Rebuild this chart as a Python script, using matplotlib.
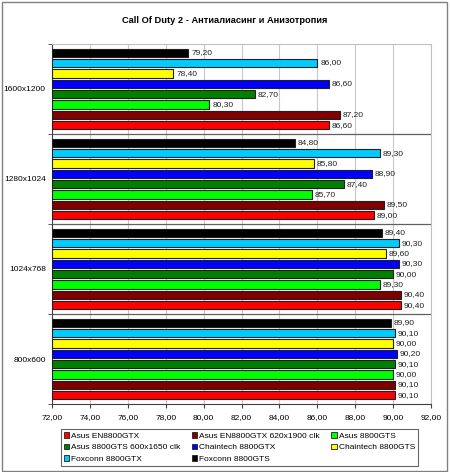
import matplotlib
matplotlib.use("Agg")
import matplotlib.pyplot as plt
from matplotlib.patches import Rectangle, Patch
import numpy as np

plt.rcParams['font.family'] = ['Liberation Sans', 'DejaVu Sans']

title = "Call Of Duty 2 - Антиалиасинг и Анизотропия"
groups = ["800x600", "1024x768", "1280x1024", "1600x1200"]
series = ["Asus EN8800GTX", "Asus EN8800GTX 620x1900 clk", "Asus 8800GTS",
          "Asus 8800GTS 600x1650 clk", "Chaintech 8800GTX", "Chaintech 8800GTS",
          "Foxconn 8800GTX", "Foxconn 8800GTS"]
colors = ["#FF0000", "#800000", "#00FF00", "#008000", "#0000FF", "#FFFF00",
          "#00CCFF", "#000000"]
# values per series across groups (800x600, 1024x768, 1280x1024, 1600x1200)
asus_gtx =      [90.10, 90.40, 89.00, 86.60]
asus_gtx_oc =   [90.10, 90.40, 89.50, 87.20]
asus_gts =      [90.00, 89.30, 85.70, 80.30]
asus_gts_oc =   [90.10, 90.00, 87.40, 82.70]
chain_gtx =     [90.20, 90.30, 88.90, 86.60]
chain_gts =     [90.00, 89.60, 85.80, 78.40]
fox_gtx =       [90.10, 90.30, 89.30, 86.00]
fox_gts =       [89.90, 89.40, 84.80, 79.20]
values = [asus_gtx, asus_gtx_oc, asus_gts, asus_gts_oc, chain_gtx, chain_gts,
          fox_gtx, fox_gts]
xticks = [72, 74, 76, 78, 80, 82, 84, 86, 88, 90, 92]

FS = 6.0

fig = plt.figure(figsize=(4.5, 4.72), dpi=100)
fig.patch.set_facecolor("white")
fig.patches.append(Rectangle((1.5 / 450, 1.5 / 472), 445.5 / 450, 469 / 472,
                             transform=fig.transFigure, fill=False,
                             edgecolor="#808080", linewidth=1.0))
ax = fig.add_axes([0.1156, 0.144, 0.8422, 0.763])

n = len(series)
slot = 1.0 / 8.7
h = slot * 0.80
xmin = 72
for gi, g in enumerate(groups):
    for si in range(n):
        y = gi - (n - 1) / 2 * slot + si * slot
        v = values[si][gi]
        ax.barh(y, v - xmin, left=xmin, height=h, color=colors[si],
                edgecolor="#202020", linewidth=0.8, zorder=3)
        ax.text(v + 0.15, y, f"{v:.2f}".replace(".", ","), va="center", ha="left",
                fontsize=FS, color="#202020", zorder=4)

ax.set_xlim(72, 92)
ax.set_ylim(-0.5, len(groups) - 0.5)
ax.set_xticks(xticks)
ax.set_xticklabels([f"{t:.2f}".replace(".", ",") for t in xticks], fontsize=FS)
ax.set_yticks(range(len(groups)))
ax.set_yticklabels(groups, fontsize=FS)
ax.tick_params(axis='y', length=0, pad=4.5)
ax.tick_params(axis='x', length=3, color="#404040", pad=4)
ax.set_yticks([i + 0.5 for i in range(len(groups) - 1)] + [-0.5, len(groups) - 0.5], minor=True)
ax.tick_params(axis='y', which='minor', length=3, color="#404040")
for i in range(len(groups) - 1):
    ax.axhline(i + 0.5, color="#606060", linewidth=0.9, zorder=2)
ax.grid(axis='x', color="#C8C8C8", linewidth=0.8, zorder=0)
for s in ["top", "right"]:
    ax.spines[s].set_color("#C0C0C0")
    ax.spines[s].set_linewidth(0.8)
ax.spines["left"].set_color("#404040")
ax.spines["bottom"].set_color("#404040")
ax.spines["left"].set_linewidth(0.8)
ax.spines["bottom"].set_linewidth(0.8)

fig.text(0.5, 0.957, title, ha="center", va="center", fontsize=6.7, fontweight="bold")

handles = [Patch(facecolor=c, edgecolor="#202020", linewidth=0.6) for c in colors]
order = [0, 3, 6, 1, 4, 7, 2, 5]
leg = fig.legend([handles[i] for i in order], [series[i] for i in order],
                 loc="center", bbox_to_anchor=(239.5 / 450, 1 - 447.5 / 472),
                 ncol=3, fontsize=FS, frameon=True, fancybox=False,
                 edgecolor="#404040", handlelength=0.65, handleheight=0.65,
                 handletextpad=0.25, columnspacing=1.35, labelspacing=0.45,
                 borderpad=0.4, borderaxespad=0)
leg.get_frame().set_linewidth(0.8)

fig.savefig("out.png", dpi=100, facecolor="white")
